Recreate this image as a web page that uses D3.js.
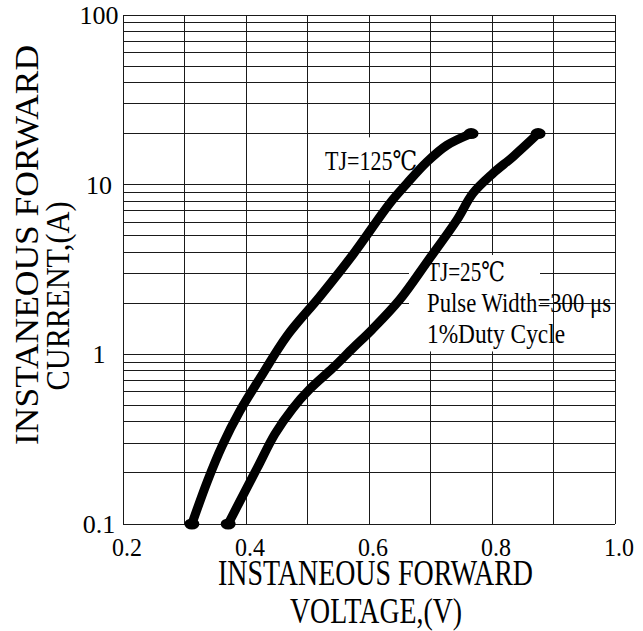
<!DOCTYPE html>
<html>
<head>
<meta charset="utf-8">
<script src="https://cdn.jsdelivr.net/npm/d3@7/dist/d3.min.js"></script>
<style>
  body { margin: 0; background: #fff; }
  svg text { font-family: "Liberation Serif", "Times New Roman", "DejaVu Serif", serif; fill: #000; }
</style>
</head>
<body>
<svg id="chart" width="643" height="631"></svg>
<script>
// ---- data ----
const voltTj125 = [0.312, 0.337, 0.361, 0.390, 0.423, 0.467, 0.520, 0.574, 0.634, 0.662, 0.694, 0.727, 0.766];
const currTj125 = [0.10, 0.178, 0.288, 0.463, 0.726, 1.29, 2.19, 3.88, 7.78, 10.2, 13.6, 17.1, 20];
const voltTj25  = [0.371, 0.390, 0.418, 0.447, 0.476, 0.504, 0.541, 0.574, 0.605, 0.650, 0.696, 0.743, 0.769, 0.802, 0.834, 0.875];
const currTj25  = [0.10, 0.136, 0.213, 0.339, 0.48, 0.625, 0.83, 1.09, 1.40, 2.1, 3.57, 6.2, 8.9, 11.7, 14.6, 20];

const xGridValues = [0.2, 0.3, 0.4, 0.5, 0.6, 0.7, 0.8, 0.9, 1.0];
const xTickValues = [0.2, 0.4, 0.6, 0.8, 1.0];
const xTickLabels = ["0.2", "0.4", "0.6", "0.8", "1.0"];
const yTickValues = [0.1, 1, 10, 100];
const yTickLabels = ["0.1", "1", "10", "100"];

const xTitle = ["INSTANEOUS FORWARD", "VOLTAGE,(V)"];
const yTitle = ["INSTANEOUS FORWARD", "CURRENT,(A)"];
const label125 = "TJ=125℃";
const label25 = ["TJ=25℃", "Pulse Width=300 μs", "1%Duty Cycle"];

// ---- layout ----
const plot = { left: 123, right: 615, top: 15, bottom: 524 };
const svg = d3.select("#chart");

const x = d3.scaleLinear().domain([0.2, 1.0]).range([plot.left, plot.right]);
const y = d3.scaleLog().domain([0.1, 100]).range([plot.bottom, plot.top]);

// ---- grid ----
const grid = svg.append("g").attr("stroke", "#1a1a1a").attr("stroke-width", 1).attr("shape-rendering", "crispEdges");
grid.selectAll("line.v").data(xGridValues).join("line").attr("class", "v")
  .attr("x1", d => x(d)).attr("x2", d => x(d))
  .attr("y1", plot.top).attr("y2", plot.bottom);
grid.selectAll("line.h").data(y.ticks()).join("line").attr("class", "h")
  .attr("x1", plot.left).attr("x2", plot.right)
  .attr("y1", d => y(d)).attr("y2", d => y(d));

// white backgrounds behind annotations
svg.append("rect").attr("x", 318).attr("y", y(19)).attr("width", 102).attr("height", y(10.6) - y(19)).attr("fill", "#fff");
svg.append("rect").attr("x", 409).attr("y", y(3.85)).attr("width", 131).attr("height", y(1.04) - y(3.85)).attr("fill", "#fff");

// ---- curves ----
const line = d3.line().x(d => x(d[0])).y(d => y(d[1])).curve(d3.curveCatmullRom.alpha(0.5));
const series = [
  d3.zip(voltTj125, currTj125),
  d3.zip(voltTj25, currTj25)
];
svg.append("g").selectAll("path").data(series).join("path")
  .attr("d", line)
  .attr("fill", "none").attr("stroke", "#000").attr("stroke-width", 9)
  .attr("stroke-linecap", "round").attr("stroke-linejoin", "round");
const ends = series.flatMap(s => [s[0], s[s.length - 1]]);
svg.append("g").selectAll("ellipse").data(ends).join("ellipse")
  .attr("cx", d => x(d[0])).attr("cy", d => y(d[1]))
  .attr("rx", 7.5).attr("ry", 5.5).attr("fill", "#000");

// ---- axis tick labels ----
svg.append("g").selectAll("text").data(xTickValues).join("text")
  .attr("x", d => x(d) + 4).attr("y", 556)
  .attr("text-anchor", "middle").attr("font-size", 26)
  .attr("textLength", 30).attr("lengthAdjust", "spacingAndGlyphs")
  .text((d, i) => xTickLabels[i]);
svg.append("g").selectAll("text").data(yTickValues).join("text")
  .attr("x", 99).attr("y", d => y(d) + 9)
  .attr("text-anchor", "middle").attr("font-size", 26)
  .text((d, i) => yTickLabels[i]);

// ---- axis titles ----
svg.append("text").attr("x", 375.5).attr("y", 585).attr("text-anchor", "middle")
  .attr("font-size", 35).attr("textLength", 315).attr("lengthAdjust", "spacingAndGlyphs").text(xTitle[0]);
svg.append("text").attr("x", 376).attr("y", 623).attr("text-anchor", "middle")
  .attr("font-size", 35).attr("textLength", 172).attr("lengthAdjust", "spacingAndGlyphs").text(xTitle[1]);

svg.append("text").attr("transform", "translate(38,245) rotate(-90)").attr("text-anchor", "middle")
  .attr("font-size", 33).attr("textLength", 400).attr("lengthAdjust", "spacingAndGlyphs").text(yTitle[0]);
svg.append("text").attr("transform", "translate(69,296) rotate(-90)").attr("text-anchor", "middle")
  .attr("font-size", 33).attr("textLength", 189).attr("lengthAdjust", "spacingAndGlyphs").text(yTitle[1]);

// ---- annotations ----
svg.append("text").attr("x", 325).attr("y", 170).attr("font-size", 27)
  .attr("textLength", 92).attr("lengthAdjust", "spacingAndGlyphs").text(label125);
const annLens = [78, 184, 138];
const annY = [281, 312, 343];
svg.append("g").selectAll("text").data(label25).join("text")
  .attr("x", 427).attr("y", (d, i) => annY[i]).attr("font-size", 27)
  .attr("textLength", (d, i) => annLens[i]).attr("lengthAdjust", "spacingAndGlyphs")
  .text(d => d);
</script>
</body>
</html>
